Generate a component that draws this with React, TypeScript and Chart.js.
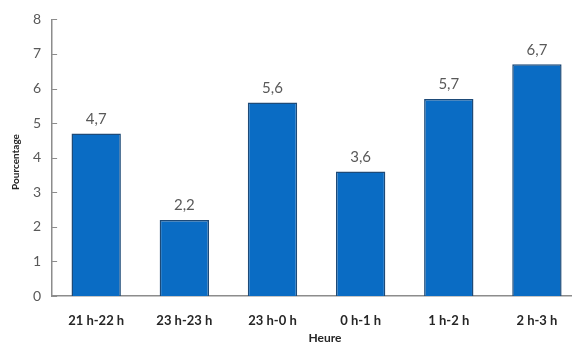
import React, { useEffect, useRef } from "react";
import { Chart, registerables } from "chart.js";

Chart.register(...registerables);

const categories = ["21 h-22 h", "23 h-23 h", "23 h-0 h", "0 h-1 h", "1 h-2 h", "2 h-3 h"];
const values = [4.7, 2.2, 5.6, 3.6, 5.7, 6.7];
const yTicks = [0, 1, 2, 3, 4, 5, 6, 7, 8];

const FONT = "Lato, 'Open Sans', sans-serif";
const AXIS_COLOR = "#8c8c8c";

// Writes each bar's value (comma decimal) above it, the inside tick marks
// of the value axis, and both axis captions
const decorations = {
  id: "decorations",
  afterDatasetsDraw(chart: any) {
    const { ctx } = chart;
    const meta = chart.getDatasetMeta(0);
    const y = chart.scales.y;
    ctx.save();

    ctx.strokeStyle = AXIS_COLOR;
    ctx.lineWidth = 1;
    yTicks.forEach((v) => {
      const py = Math.round(y.getPixelForValue(v)) + 0.5;
      ctx.beginPath();
      ctx.moveTo(y.right, py);
      ctx.lineTo(y.right + 5, py);
      ctx.stroke();
    });

    ctx.font = `15px ${FONT}`;
    ctx.fillStyle = "#595959";
    ctx.textAlign = "center";
    ctx.textBaseline = "bottom";
    meta.data.forEach((bar: any, i: number) => {
      ctx.fillText(values[i].toFixed(1).replace(".", ","), bar.x, bar.y - 7);
    });

    ctx.fillStyle = "#262626";
    ctx.textBaseline = "middle";
    ctx.font = `bold 12px ${FONT}`;
    ctx.fillText("Heure", 325, 338);

    ctx.font = `bold 10px ${FONT}`;
    ctx.translate(16, 162);
    ctx.rotate(-Math.PI / 2);
    ctx.fillText("Pourcentage", 0, 0);
    ctx.restore();
  },
};

export default function App() {
  const ref = useRef<HTMLCanvasElement>(null);

  useEffect(() => {
    if (!ref.current) return;
    const chart = new Chart(ref.current, {
      type: "bar",
      data: {
        labels: categories,
        datasets: [
          {
            data: values,
            backgroundColor: "#0a6cc4",
            borderColor: "#1d4a78",
            borderWidth: 1.5,
            barPercentage: 0.56,
            categoryPercentage: 1,
          },
        ],
      },
      options: {
        animation: false,
        responsive: false,
        layout: { padding: { left: 22, right: 9, top: 2, bottom: 0 } },
        plugins: { legend: { display: false }, tooltip: { enabled: false } },
        scales: {
          x: {
            grid: { display: false, drawTicks: false },
            border: { display: true, color: AXIS_COLOR, width: 1.5 },
            ticks: {
              color: "#262626",
              font: { family: FONT, size: 13, weight: "bold", lineHeight: 1 },
              padding: 18,
              maxRotation: 0,
            },
          },
          y: {
            min: 0,
            max: 8,
            afterBuildTicks(axis: any) {
              axis.ticks = yTicks.map((v) => ({ value: v }));
            },
            grid: { display: false, drawTicks: false },
            border: { display: true, color: AXIS_COLOR, width: 1.5 },
            ticks: {
              color: "#595959",
              font: { family: FONT, size: 14 },
              padding: 11,
            },
          },
        },
      },
      plugins: [decorations],
    });
    return () => chart.destroy();
  }, []);

  return (
    <div
      style={{
        position: "fixed",
        left: 0,
        top: 0,
        width: 572,
        height: 345,
        overflow: "hidden",
        background: "#fff",
      }}
    >
      <canvas ref={ref} width={590} height={345} />
    </div>
  );
}
